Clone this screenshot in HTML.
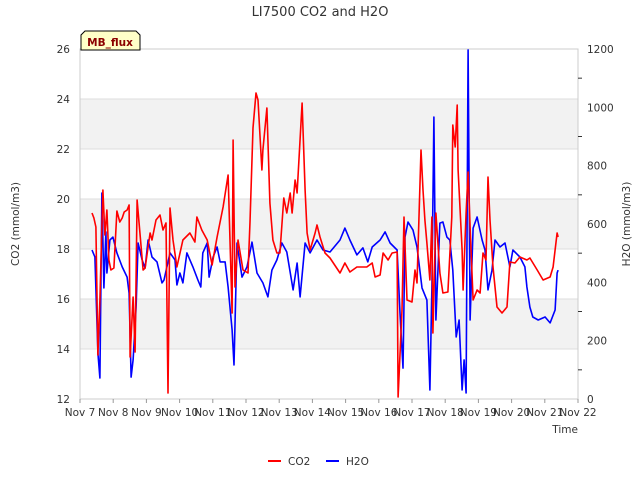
<!DOCTYPE html>
<html><head><meta charset="utf-8"><style>
body{margin:0;background:#fff;}
svg{font-family:"DejaVu Sans","Liberation Sans",sans-serif;}
</style></head><body>
<svg id="chart" width="640" height="480" viewBox="0 0 640 480" xmlns="http://www.w3.org/2000/svg">
<g id="bands"></g>
<g id="grid"></g>
<rect x="80" y="49" width="498" height="350" fill="none" stroke="#ccc"/>
<g id="axes"></g>
<g id="series"></g>
<text x="320" y="16" text-anchor="middle" font-size="13" fill="#333">LI7500 CO2 and H2O</text>
<text x="19" y="224" text-anchor="middle" font-size="10.5" fill="#333" transform="rotate(-90 19 224)">CO2 (mmol/m3)</text>
<text x="630" y="224" text-anchor="middle" font-size="10.5" fill="#333" transform="rotate(-90 630 224)">H2O (mmol/m3)</text>
<text x="578" y="433" text-anchor="end" font-size="10.5" fill="#333">Time</text>
<g>
<path d="M81,50 L81,35 L85,31 L136,31 L140,35 L140,50 Z" fill="#ffffc8" stroke="#000" stroke-width="1"/>
<text x="110" y="46" text-anchor="middle" font-size="10.5" font-weight="bold" fill="#8b0000">MB_flux</text>
</g>
<g>
<g><line x1="268" y1="461" x2="281" y2="461" stroke="#f00" stroke-width="2"/><text x="288" y="465" font-size="10.5" fill="#333">CO2</text></g>
<g><line x1="326" y1="461" x2="339" y2="461" stroke="#00f" stroke-width="2"/><text x="346" y="465" font-size="10.5" fill="#333">H2O</text></g>
</g>
</svg>
<script>
const xTickLabels=["Nov 7","Nov 8","Nov 9","Nov 10","Nov 11","Nov 12","Nov 13","Nov 14","Nov 15","Nov 16","Nov 17","Nov 18","Nov 19","Nov 20","Nov 21","Nov 22"];
const xTickDays=[7,8,9,10,11,12,13,14,15,16,17,18,19,20,21,22];
const co2Ticks=[12,14,16,18,20,22,24,26];
const h2oTicks=[0,200,400,600,800,1000,1200];
const co2Days=[7.36,7.42,7.48,7.54,7.60,7.69,7.75,7.81,7.87,7.93,8.02,8.11,8.20,8.27,8.33,8.42,8.48,8.51,8.60,8.66,8.72,8.81,8.90,8.96,9.11,9.17,9.29,9.41,9.50,9.59,9.65,9.71,9.80,9.92,10.10,10.31,10.46,10.52,10.67,10.83,10.98,11.13,11.31,11.46,11.58,11.61,11.67,11.76,11.91,12.06,12.12,12.21,12.30,12.36,12.48,12.51,12.63,12.72,12.81,12.93,13.02,13.14,13.23,13.33,13.39,13.48,13.54,13.69,13.78,13.84,13.93,14.08,14.14,14.23,14.38,14.53,14.83,14.98,15.13,15.34,15.64,15.80,15.89,16.04,16.13,16.28,16.40,16.55,16.58,16.70,16.76,16.85,17.00,17.09,17.15,17.27,17.33,17.39,17.45,17.54,17.60,17.63,17.72,17.84,17.93,18.08,18.20,18.23,18.30,18.36,18.39,18.51,18.54,18.63,18.69,18.75,18.84,18.96,19.05,19.14,19.23,19.29,19.35,19.44,19.56,19.71,19.86,19.95,20.10,20.25,20.46,20.55,20.77,20.95,21.16,21.25,21.37,21.40];
const co2Values=[19.44,19.24,18.88,13.76,15.96,20.36,18.56,19.56,17.56,17.16,17.24,19.52,19.08,19.24,19.48,19.56,19.76,13.68,16.08,13.88,19.96,18.56,17.16,17.24,18.64,18.36,19.16,19.36,18.76,19.04,12.24,19.64,18.36,17.28,18.36,18.64,18.28,19.28,18.76,18.36,17.36,18.48,19.68,20.96,15.44,22.36,16.48,18.36,17.16,17.04,19.08,22.84,24.24,23.96,21.16,21.96,23.64,19.84,18.36,17.84,17.84,20.04,19.44,20.24,19.44,20.76,20.24,23.84,20.36,18.64,17.96,18.64,18.96,18.48,17.84,17.64,17.04,17.44,17.08,17.28,17.28,17.44,16.88,16.96,17.84,17.56,17.84,17.88,12.08,15.56,19.28,15.96,15.88,17.16,16.64,21.96,20.36,19.16,18.24,16.76,19.28,14.64,19.44,17.04,16.24,16.28,19.28,22.96,22.08,23.76,21.16,17.96,16.36,19.44,21.08,18.88,15.96,16.36,16.24,17.84,17.56,20.88,19.16,17.28,15.68,15.44,15.68,17.48,17.44,17.68,17.56,17.64,17.16,16.76,16.88,17.28,18.64,18.48];
const h2oDays=[7.36,7.45,7.54,7.60,7.66,7.72,7.78,7.81,7.90,7.99,8.11,8.27,8.42,8.48,8.54,8.60,8.69,8.75,8.87,8.96,9.05,9.17,9.32,9.47,9.53,9.71,9.86,9.92,10.01,10.10,10.22,10.40,10.55,10.64,10.70,10.83,10.89,11.01,11.13,11.22,11.37,11.46,11.58,11.64,11.73,11.88,12.03,12.18,12.33,12.51,12.66,12.78,12.93,13.08,13.23,13.42,13.54,13.63,13.78,13.93,14.14,14.32,14.53,14.83,14.98,15.13,15.34,15.52,15.67,15.80,16.04,16.19,16.34,16.55,16.64,16.73,16.79,16.88,17.03,17.15,17.30,17.45,17.54,17.60,17.66,17.72,17.84,17.93,18.05,18.14,18.23,18.33,18.42,18.51,18.57,18.63,18.69,18.75,18.84,18.96,19.11,19.20,19.29,19.41,19.50,19.65,19.80,19.95,20.04,20.25,20.40,20.46,20.55,20.64,20.80,21.01,21.16,21.31,21.37,21.40];
const h2oValues=[511,487,158,72,706,381,573,432,545,555,501,453,418,363,75,134,315,535,477,449,545,487,470,398,408,501,477,391,432,398,501,453,408,384,501,535,418,487,521,470,470,384,237,117,535,418,453,538,432,398,350,442,477,535,504,374,466,350,535,501,545,511,504,545,586,545,494,518,470,521,545,573,535,511,295,106,555,607,579,521,381,339,31,384,967,271,603,607,555,545,442,213,271,31,134,21,1197,271,586,624,545,511,374,442,545,521,535,453,511,487,453,384,315,281,271,281,261,305,432,442];

const X0=80,X1=578,Y0=399,Y1=49;
const xs=d=>X0+(d-7)/15*(X1-X0);
const yc=v=>Y0-(v-12)/14*(Y0-Y1);
const yh=v=>Y0-v/1200*(Y0-Y1);
const NS="http://www.w3.org/2000/svg";
function mk(parent,tag,attrs){const e=document.createElementNS(NS,tag);for(const k in attrs)e.setAttribute(k,attrs[k]);document.getElementById(parent).appendChild(e);return e;}

[14,18,22].forEach(b=>{
  const r=mk('bands','rect',{x:X0,y:yc(b+2),width:X1-X0,height:yc(b)-yc(b+2),fill:'#f2f2f2'});
  
  
});
co2Ticks.forEach(t=>{
  const l=mk('grid','line',{x1:X0,x2:X1,y1:yc(t),y2:yc(t),stroke:'#ddd'});
  
  
  const tx=mk('axes','text',{x:X0-10,y:yc(t)+4,'text-anchor':'end','font-size':10.5,fill:'#333'});
  tx.textContent=t;
  
  
});
h2oTicks.forEach(t=>{
  const tx=mk('axes','text',{x:X1+9,y:yh(t)+4,'font-size':10.5,fill:'#333'});
  tx.textContent=t;
  
  
});
for(let v=100;v<1200;v+=200){
  const l=mk('axes','line',{x1:X1,x2:X1+4,y1:yh(v),y2:yh(v),stroke:'#333'});
  
  
}
xTickDays.forEach((d,i)=>{
  const l=mk('axes','line',{x1:xs(d),x2:xs(d),y1:Y0,y2:Y0+4,stroke:'#999'});
  
  
  const tx=mk('axes','text',{x:xs(d),y:416,'text-anchor':'middle','font-size':10.5,fill:'#333'});
  tx.textContent=xTickLabels[i];
  
  
});
const hp=mk('series','polyline',{points:h2oDays.map((d,i)=>xs(d).toFixed(1)+','+yh(h2oValues[i]).toFixed(1)).join(' '),fill:'none',stroke:'#00f','stroke-width':1.6,'stroke-linejoin':'round'});


const cp=mk('series','polyline',{points:co2Days.map((d,i)=>xs(d).toFixed(1)+','+yc(co2Values[i]).toFixed(1)).join(' '),fill:'none',stroke:'#f00','stroke-width':1.6,'stroke-linejoin':'round'});


</script>
</body></html>
